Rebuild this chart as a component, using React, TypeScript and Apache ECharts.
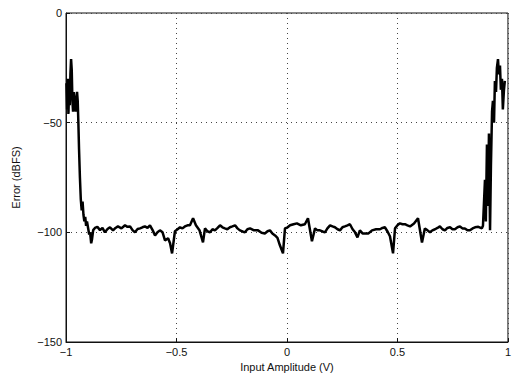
import React, { useEffect, useRef } from "react";
import * as echarts from "echarts";

const xTicks = [-1, -0.5, 0, 0.5, 1];
const yTicks = [-150, -100, -50, 0];

const xs = [
  -0.998, -0.995, -0.992, -0.989, -0.986, -0.983, -0.980, -0.977, -0.974, -0.971,
  -0.968, -0.965, -0.962, -0.959, -0.956, -0.953, -0.950, -0.947, -0.944, -0.941,
  -0.937, -0.933, -0.929, -0.925, -0.921, -0.917, -0.913, -0.909, -0.905, -0.900,
  -0.895, -0.891, -0.886, -0.882, -0.877, -0.869, -0.858, -0.846, -0.835, -0.824,
  -0.812, -0.801, -0.787, -0.776, -0.765, -0.749, -0.733, -0.722, -0.710, -0.699,
  -0.688, -0.676, -0.665, -0.654, -0.643, -0.631, -0.620, -0.608, -0.597, -0.586,
  -0.575, -0.563, -0.552, -0.538, -0.529, -0.520, -0.507, -0.495, -0.484, -0.473,
  -0.462, -0.450, -0.439, -0.425, -0.412, -0.396, -0.380, -0.371, -0.360, -0.348,
  -0.337, -0.326, -0.314, -0.303, -0.292, -0.281, -0.270, -0.258, -0.247, -0.235,
  -0.224, -0.213, -0.201, -0.190, -0.179, -0.167, -0.149, -0.131, -0.115, -0.100,
  -0.088, -0.077, -0.066, -0.054, -0.043, -0.032, -0.018, -0.009, 0.003, 0.014,
  0.030, 0.045, 0.063, 0.081, 0.095, 0.113, 0.127, 0.138, 0.149, 0.161,
  0.172, 0.183, 0.195, 0.206, 0.217, 0.229, 0.240, 0.251, 0.262, 0.274,
  0.285, 0.297, 0.308, 0.319, 0.330, 0.342, 0.353, 0.369, 0.385, 0.403,
  0.421, 0.432, 0.443, 0.455, 0.466, 0.480, 0.489, 0.500, 0.511, 0.523,
  0.534, 0.545, 0.557, 0.575, 0.593, 0.611, 0.624, 0.636, 0.647, 0.658,
  0.670, 0.681, 0.692, 0.704, 0.715, 0.726, 0.738, 0.749, 0.760, 0.772,
  0.783, 0.794, 0.805, 0.817, 0.828, 0.840, 0.851, 0.866, 0.882, 0.887,
  0.896, 0.900, 0.905, 0.910, 0.914, 0.919, 0.923, 0.928, 0.932, 0.937,
  0.941, 0.946, 0.950, 0.955, 0.959, 0.964, 0.968, 0.973, 0.977, 0.982,
  0.986,
];

const errors = [
  -32, -44, -30, -46, -35, -42, -28, -21, -26, -40,
  -45, -36, -44, -42, -45, -38, -36, -40, -50, -62,
  -75, -85, -90, -86, -92, -95, -93, -97, -95, -98,
  -101, -100, -105, -103, -99, -98, -97.5, -99, -98, -100,
  -98.5, -97.7, -99.1, -98, -97.3, -98.2, -96.8, -97.5, -97.3, -99,
  -100, -98.5, -98.2, -97.7, -97.3, -98, -96.8, -99, -101.4, -100,
  -99.1, -100, -103.7, -102.7, -105, -109.6, -99.5, -98.6, -97.7, -98.2,
  -97.3, -96.8, -96.8, -93.6, -96.8, -99, -104.6, -98.2, -99.5, -100,
  -98.6, -99.1, -98, -96.8, -97.7, -98.2, -98.6, -97.7, -97.3, -96.8,
  -98.2, -99.1, -99.6, -100, -98.6, -98.2, -99.1, -99.1, -100.2, -100.5,
  -99.5, -99.1, -100.5, -101.4, -102.5, -105.9, -109.6, -98.2, -97.7, -96.8,
  -96.3, -95.9, -96.8, -96.3, -93.6, -104.1, -98.2, -99.1, -99.1, -99.6,
  -100, -98.2, -96.8, -97.3, -97.7, -98.6, -99.1, -97.7, -97.3, -96.8,
  -96.3, -98.6, -100, -102.3, -99.1, -100.5, -100.5, -100.5, -99.1, -98.6,
  -98.6, -98, -97.7, -99.6, -101.8, -109.6, -98.2, -96.8, -95.9, -96.3,
  -96.3, -96.8, -97.3, -96, -93.6, -104.6, -98.2, -99.1, -100, -99.1,
  -98.6, -98, -97.3, -98.6, -99.1, -98, -97.7, -98.6, -98.6, -97.7,
  -97.3, -98.2, -98.2, -99.1, -99.1, -98.2, -97.7, -97.5, -98.2, -97,
  -76, -95, -60, -88, -55, -99, -70, -45, -40, -50,
  -31, -36, -25, -21, -28, -24, -35, -30, -44, -35,
  -31,
];

export default function App() {
  const ref = useRef<HTMLDivElement>(null);
  useEffect(() => {
    document.body.style.margin = "0";
    const chart = echarts.init(ref.current!, null, { renderer: "svg" });
    const data = xs.map((x, i) => [x, errors[i]]);
    const font = "Liberation Sans, Arial, sans-serif";
    const fmt = (v: number) => (v < 0 ? "\u2212" + String(-v) : String(v));
    chart.setOption({
      animation: false,
      backgroundColor: "#ffffff",
      grid: {
        left: 66,
        right: 6,
        top: 13,
        bottom: 36,
        show: true,
        borderColor: "#111",
        borderWidth: 1,
        backgroundColor: "transparent",
      },
      xAxis: {
        type: "value",
        min: xTicks[0],
        max: xTicks[xTicks.length - 1],
        interval: 0.5,
        name: "Input Amplitude (V)",
        nameLocation: "middle",
        nameGap: 17,
        nameTextStyle: { color: "#111", fontSize: 11, fontFamily: font },
        axisLine: { show: true, onZero: false, lineStyle: { color: "#111", width: 1 } },
        axisTick: { show: true, inside: true, length: 4, lineStyle: { color: "#111" } },
        axisLabel: { color: "#111", fontSize: 11, fontFamily: font, margin: 4, formatter: fmt },
        splitLine: { show: true, lineStyle: { color: "#444", type: [1, 4], width: 1 } },
      },
      yAxis: {
        type: "value",
        min: yTicks[0],
        max: yTicks[yTicks.length - 1],
        interval: 50,
        name: "Error (dBFS)",
        nameLocation: "middle",
        nameGap: 45,
        nameTextStyle: { color: "#111", fontSize: 11, fontFamily: font },
        axisLine: { show: true, onZero: false, lineStyle: { color: "#111", width: 1 } },
        axisTick: { show: true, inside: true, length: 4, lineStyle: { color: "#111" } },
        axisLabel: { color: "#111", fontSize: 11, fontFamily: font, margin: 4, formatter: fmt },
        splitLine: { show: true, lineStyle: { color: "#444", type: [1, 4], width: 1 } },
      },
      series: [
        {
          type: "line",
          data,
          showSymbol: false,
          symbol: "none",
          lineStyle: { color: "#000", width: 2.5 },
          clip: true,
        },
      ],
    });
    return () => chart.dispose();
  }, []);
  return (
    <div
      ref={ref}
      style={{ width: 514, height: 378, position: "absolute", left: 0, top: 0 }}
    />
  );
}
